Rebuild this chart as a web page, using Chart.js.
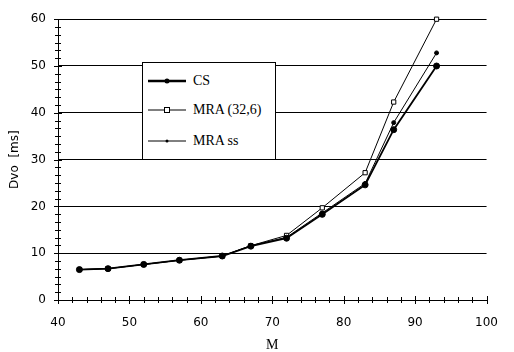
<!DOCTYPE html>
<html>
<head>
<meta charset="utf-8">
<script src="https://cdn.jsdelivr.net/npm/chart.js@4.4.1/dist/chart.umd.min.js"></script>
<style>
  html, body { margin: 0; padding: 0; background: #fff; }
  #wrap { position: relative; width: 514px; height: 352px; }
  #legend {
    position: absolute; left: 142px; top: 62px; width: 132px; height: 96px;
    border: 1px solid #000; background: #fff;
    font-family: "Liberation Serif", serif; font-size: 14px; color: #000;
  }
  .item { position: absolute; left: 0; height: 16px; line-height: 16px; }
  .item canvas { position: absolute; left: 5px; top: 0; }
  .item span { position: absolute; left: 50px; top: 0; white-space: nowrap; }
</style>
</head>
<body>
<div id="wrap">
  <canvas id="c" width="514" height="352"></canvas>
  <div id="legend"></div>
</div>
<script>
// 数据
const mValues = [43, 47, 52, 57, 63, 67, 72, 77, 83, 87, 93];
const csValues = [6.5, 6.7, 7.6, 8.5, 9.4, 11.5, 13.2, 18.3, 24.6, 36.4, 50.0];
const mra32Values = [6.5, 6.7, 7.6, 8.5, 9.4, 11.6, 13.8, 19.7, 27.2, 42.3, 60.0];
const mraSsValues = [6.5, 6.7, 7.6, 8.5, 9.4, 11.6, 13.4, 18.6, 24.9, 37.9, 52.8];
const seriesNames = ['CS', 'MRA (32,6)', 'MRA ss'];
const xTicks = [40, 50, 60, 70, 80, 90, 100];
const yTicks = [0, 10, 20, 30, 40, 50, 60];

function toPoints(vals) {
    return vals.map((v, i) => ({ x: mValues[i], y: v }));
}

// 副刻度
const minorTicks = {
    id: 'minorTicks',
    afterDraw(chart) {
        const ctx = chart.ctx;
        const xs = chart.scales.x, ys = chart.scales.y;
        const area = chart.chartArea;
        ctx.save();
        ctx.strokeStyle = '#000';
        ctx.lineWidth = 1;
        ctx.beginPath();
        for (let v = 40; v <= 100.001; v += 2) {
            const px = Math.round(xs.getPixelForValue(v)) + 0.5;
            const len = (Math.round(v) % 10 === 0) ? 4 : 3;
            ctx.moveTo(px, area.bottom - len);
            ctx.lineTo(px, area.bottom + len);
        }
        for (let i = 0; i <= 36; i++) {
            const py = Math.round(ys.getPixelForValue(i * 10 / 6)) + 0.5;
            const len = (i % 6 === 0) ? 4 : 3;
            ctx.moveTo(area.left - len, py);
            ctx.lineTo(area.left + len, py);
        }
        ctx.stroke();
        ctx.restore();
    }
};

const styles = [
    { borderWidth: 1.8, pointStyle: 'circle', pointRadius: 3, pointBackgroundColor: '#000' },
    { borderWidth: 1, pointStyle: 'rect', pointRadius: 3, pointBackgroundColor: '#fff' },
    { borderWidth: 1, pointStyle: 'circle', pointRadius: 2, pointBackgroundColor: '#000' }
];
const allValues = [csValues, mra32Values, mraSsValues];

const datasets = allValues.map((vals, i) => Object.assign({
    label: seriesNames[i],
    data: toPoints(vals),
    borderColor: '#000',
    pointBorderColor: '#000',
    pointBorderWidth: 1,
    tension: 0,
    clip: false
}, styles[i]));

new Chart(document.getElementById('c'), {
    type: 'line',
    data: { datasets: datasets },
    options: {
        responsive: false,
        animation: false,
        events: [],
        layout: { padding: { top: 16, right: 13, left: 0, bottom: 0 } },
        plugins: { legend: { display: false }, tooltip: { enabled: false } },
        scales: {
            x: {
                type: 'linear', min: 40, max: 100,
                afterBuildTicks: s => { s.ticks = xTicks.map(v => ({ value: v })); },
                afterFit: s => { s.height = 52; },
                grid: { display: false, drawTicks: false },
                border: { display: true, color: '#000', width: 1 },
                ticks: { color: '#000', padding: 16, font: { family: 'DejaVu Sans', size: 12 }, maxRotation: 0 },
                title: { display: true, text: 'M', color: '#000', padding: 0,
                         font: { family: 'Liberation Serif', size: 14, lineHeight: 1 } }
            },
            y: {
                min: 0, max: 60,
                afterBuildTicks: s => { s.ticks = yTicks.map(v => ({ value: v })); },
                afterFit: s => { s.width = 58; },
                grid: { color: '#000', lineWidth: 1, drawTicks: false },
                border: { display: true, color: '#000', width: 1 },
                ticks: { color: '#000', padding: 12, font: { family: 'DejaVu Sans', size: 12 } },
                title: { display: true, text: 'Dvo  [ms]', color: '#000', padding: { top: 8, bottom: 0 },
                         font: { family: 'DejaVu Sans', size: 12, lineHeight: 1.2 } }
            }
        }
    },
    plugins: [minorTicks]
});

// 图例
const legend = document.getElementById('legend');
const rowTops = [10, 39, 70];
seriesNames.forEach((name, i) => {
    const row = document.createElement('div');
    row.className = 'item';
    row.style.top = rowTops[i] + 'px';
    const cv = document.createElement('canvas');
    cv.width = 40; cv.height = 16;
    const g = cv.getContext('2d');
    const st = styles[i];
    g.strokeStyle = '#000';
    g.lineWidth = i === 0 ? 2.5 : st.borderWidth;
    g.beginPath(); g.moveTo(0, 8); g.lineTo(38, 8); g.stroke();
    g.lineWidth = 1;
    g.fillStyle = st.pointBackgroundColor;
    if (st.pointStyle === 'rect') {
        g.fillRect(16.5, 5.5, 5, 5); g.strokeRect(16.5, 5.5, 5, 5);
    } else {
        g.beginPath(); g.arc(19, 8, st.pointRadius - 0.5, 0, Math.PI * 2); g.fill();
    }
    row.appendChild(cv);
    const sp = document.createElement('span');
    sp.textContent = name;
    row.appendChild(sp);
    legend.appendChild(row);
});
</script>
</body>
</html>
